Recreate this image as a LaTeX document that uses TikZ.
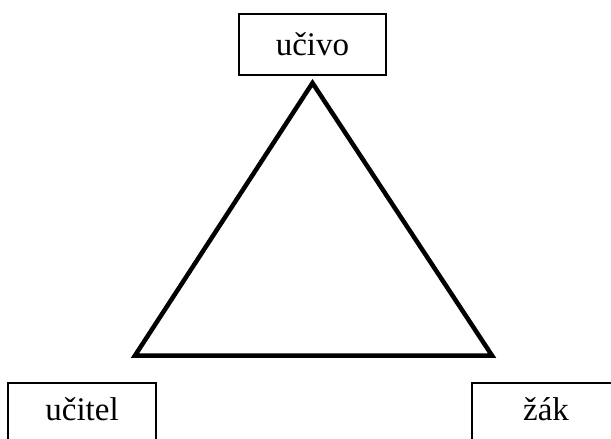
\documentclass[tikz,border=0pt]{standalone}
\usepackage{fontspec}
\setmainfont{Liberation Serif}
\begin{document}
\begin{tikzpicture}[x=1pt,y=-1pt,
  box/.style={draw=black, line width=1.5pt, fill=white, inner sep=0pt,
    font=\fontsize{33}{38}\selectfont},
  tri/.style={draw=black, line width=4.5pt, line join=miter}]
\useasboundingbox (0,0) rectangle (611,439);
\clip (0,0) rectangle (611,439);
\node[box, minimum width=147pt, minimum height=61pt] (ucivo) at (312.5,44.5) {učivo};
\node[box, minimum width=148pt, minimum height=66pt, text height=22.5pt, text depth=14.5pt] (ucitel) at (82,416) {učitel};
\node[box, minimum width=148pt, minimum height=66pt, text height=22.5pt, text depth=14.5pt] (zak) at (546,416) {žák};
\coordinate (A) at (312.5,83);
\coordinate (B) at (135,355.5);
\coordinate (C) at (492,355.5);
\draw[tri] (A) -- (B) -- (C) -- cycle;
\end{tikzpicture}
\end{document}
